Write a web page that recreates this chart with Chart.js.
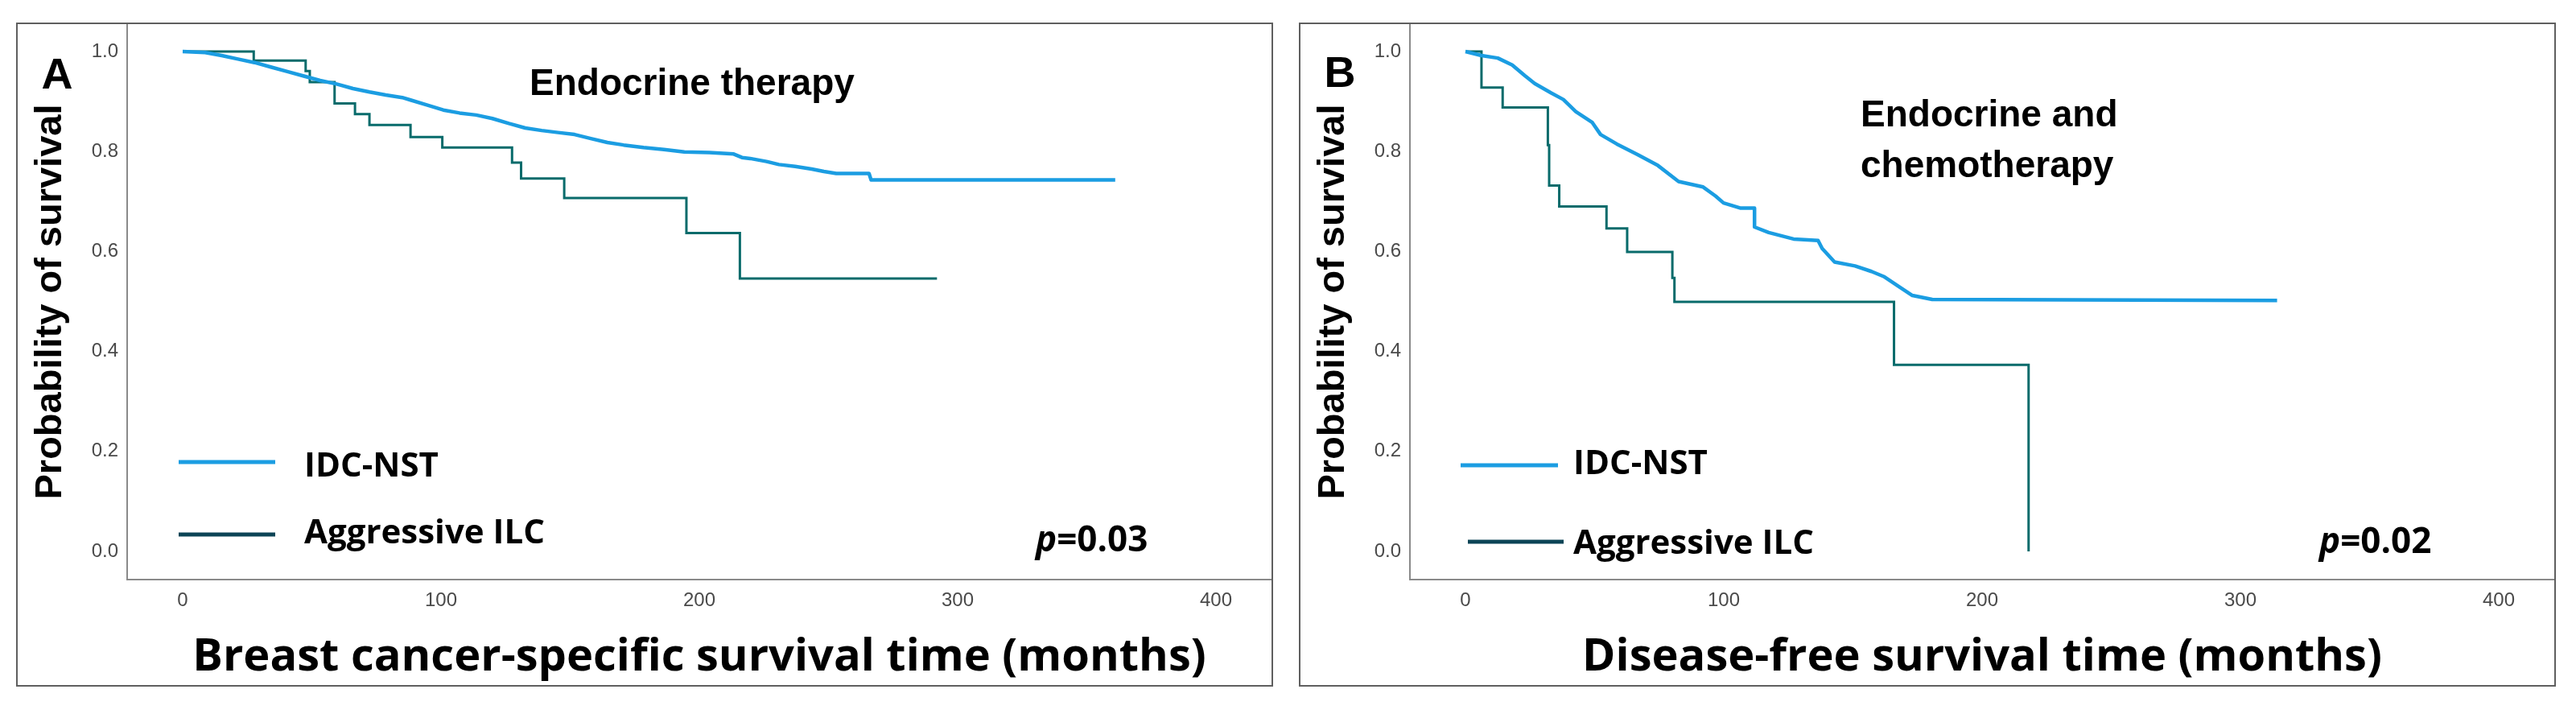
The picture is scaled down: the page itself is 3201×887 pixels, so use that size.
<!DOCTYPE html>
<html>
<head>
<meta charset="utf-8">
<title>Kaplan-Meier curves</title>
<script src="https://cdn.jsdelivr.net/npm/chart.js@4.4.1/dist/chart.umd.min.js"></script>
<style>
    body {
        margin: 0;
        width: 3201px;
        height: 887px;
        background: #ffffff;
        overflow: hidden;
    }
    .panel {
        position: absolute;
        top: 28px;
        width: 1562px;
        height: 825px;
        border: 2px solid #5f5f5f;
        box-sizing: border-box;
    }
    #panelA { left: 20px; }
    #panelB { left: 1614px; }
    canvas { display: block; }
</style>
</head>
<body>

<div class="panel" id="panelA"><canvas id="chartA" width="1558" height="821"></canvas></div>
<div class="panel" id="panelB"><canvas id="chartB" width="1558" height="821"></canvas></div>

<script>
// axis ticks
const xTicks = [0, 100, 200, 300, 400];
const yTicks = [0.0, 0.2, 0.4, 0.6, 0.8, 1.0];

const groups = ["IDC-NST", "Aggressive ILC"];

// Panel A - breast cancer-specific survival, endocrine therapy
// IDC-NST has many small steps, so it is read as a traced line (corners included)
const aIdcTime = [0, 8.7, 15.1, 21.4, 27.8, 34.1, 40.5, 46.9, 53.2, 59.6, 65.9, 72.3, 78.6, 85, 88.2,
    94.5, 100.9, 107.2, 113.6, 119.9, 126.3, 132.6, 139, 145.3, 151.7, 158, 164.4, 170.7, 178.4,
    186.3, 194.2, 203.8, 213.3, 216.5, 219.7, 226, 230.8, 237.1, 243.5, 248.2, 253, 265.7, 266.5, 361];
const aIdcSurv = [1, 0.998, 0.992, 0.985, 0.978, 0.969, 0.960, 0.951, 0.942, 0.935, 0.926, 0.919, 0.913, 0.908, 0.903,
    0.893, 0.883, 0.877, 0.873, 0.866, 0.856, 0.847, 0.842, 0.838, 0.834, 0.826, 0.818, 0.813, 0.808,
    0.804, 0.799, 0.798, 0.795, 0.788, 0.786, 0.780, 0.774, 0.770, 0.765, 0.760, 0.756, 0.756, 0.743, 0.743];

// Aggressive ILC: event times and survival after each drop (step function)
const aIlcTime = [0, 27.5, 47.6, 49.2, 58.8, 66.7, 72.3, 88.2, 100.5, 127.5, 131, 147.7, 195, 215.7, 292];
const aIlcSurv = [1, 0.982, 0.961, 0.939, 0.896, 0.875, 0.853, 0.829, 0.808, 0.778, 0.746, 0.707, 0.637, 0.546, 0.546];

// Panel B - disease-free survival, endocrine and chemotherapy
const bIdcTime = [0, 6.2, 12.5, 18.1, 22.9, 26.8, 33.2, 37.9, 42.7, 49.1, 52.3, 58.6, 66.6, 74.5, 82.5,
    92, 96.8, 99.9, 106.3, 111.9, 111.9, 117.4, 127, 136.5, 138.1, 142.9, 150.8, 157.2, 161.9, 168.3, 173, 180.7, 314.2];
const bIdcSurv = [1, 0.992, 0.987, 0.973, 0.952, 0.936, 0.917, 0.904, 0.880, 0.858, 0.834, 0.815, 0.794, 0.772, 0.740,
    0.729, 0.711, 0.697, 0.687, 0.687, 0.649, 0.638, 0.625, 0.622, 0.606, 0.579, 0.571, 0.560, 0.550, 0.528, 0.512, 0.504, 0.502];

const bIlcTime = [0, 6.2, 14.4, 31.9, 32.4, 36.3, 54.6, 62.6, 80.1, 80.9, 165.9, 218];
const bIlcSurv = [1, 0.928, 0.888, 0.813, 0.732, 0.690, 0.646, 0.599, 0.547, 0.499, 0.373, 0];

const BLUE = "#1b9de2";
const TEAL = "#086b6b";

function toPoints(times, surv) {
    return times.map((t, i) => ({ x: t, y: surv[i] }));
}

// text that sits inside the plot: panel letter, treatment, legend, p value
const kmNotes = {
    id: "kmNotes",
    afterDraw(chart, args, opts) {
        const ctx = chart.ctx;
        ctx.save();
        ctx.fillStyle = "#000";
        ctx.textBaseline = "alphabetic";

        ctx.font = 'bold 54px "Liberation Sans"';
        ctx.textAlign = "center";
        ctx.fillText(opts.letter, opts.letterX, opts.letterY);

        ctx.textAlign = "left";
        ctx.font = 'bold 46px "Liberation Sans"';
        opts.label.forEach((line, i) => ctx.fillText(line, opts.labelX, opts.labelY[i]));

        chart.data.datasets.forEach((ds, i) => {
            const lg = opts.legend[i];
            ctx.strokeStyle = ds.legendColor;
            ctx.lineWidth = 5;
            ctx.beginPath();
            ctx.moveTo(lg.x0, lg.y);
            ctx.lineTo(lg.x1, lg.y);
            ctx.stroke();
            ctx.font = 'bold 42px "Open Sans"';
            ctx.fillText(ds.label, lg.tx, lg.ty);
        });

        ctx.font = 'italic bold 44px "Open Sans"';
        ctx.fillText("p", opts.pX, opts.pY);
        const w = ctx.measureText("p").width;
        ctx.font = 'bold 44px "Open Sans"';
        ctx.fillText("=" + opts.pValue, opts.pX + w, opts.pY);

        ctx.restore();
    }
};

function makeChart(canvasId, idc, ilc, xTitle, notes) {
    return new Chart(document.getElementById(canvasId), {
        type: "line",
        data: {
            datasets: [
                {
                    label: groups[0],
                    data: idc,
                    borderColor: BLUE,
                    legendColor: BLUE,
                    borderWidth: 4.5,
                    borderJoinStyle: "round",
                    pointRadius: 0,
                    fill: false
                },
                {
                    label: groups[1],
                    data: ilc,
                    borderColor: TEAL,
                    legendColor: "#0c4456",
                    borderWidth: 3,
                    stepped: true,
                    pointRadius: 0,
                    fill: false
                }
            ]
        },
        options: {
            responsive: false,
            animation: false,
            devicePixelRatio: 1,
            layout: { padding: 0 },
            plugins: {
                legend: { display: false },
                tooltip: { enabled: false },
                kmNotes: notes
            },
            scales: {
                x: {
                    type: "linear",
                    min: -21.5,
                    max: 421.5,
                    grid: { display: false, drawTicks: false },
                    border: { display: true, color: "#8a8a8a", width: 2 },
                    afterBuildTicks: s => { s.ticks = xTicks.map(v => ({ value: v })); },
                    afterFit: s => { s.height = 131; s.paddingLeft = 0; s.paddingRight = 0; },
                    ticks: {
                        padding: 12,
                        color: "#4a4a4a",
                        maxRotation: 0,
                        autoSkip: false,
                        font: { family: "Liberation Sans", size: 24 }
                    },
                    title: {
                        display: true,
                        text: xTitle,
                        color: "#000",
                        font: { family: "Open Sans", size: 56, weight: "bold" },
                        padding: { top: 0, bottom: 0 }
                    }
                },
                y: {
                    min: -0.0564,
                    max: 1.0548,
                    grid: { display: false, drawTicks: false },
                    border: { display: true, color: "#8a8a8a", width: 2 },
                    afterBuildTicks: s => { s.ticks = yTicks.map(v => ({ value: v })); },
                    afterFit: s => { s.width = 136; s.paddingTop = 0; s.paddingBottom = 0; },
                    ticks: {
                        padding: 11,
                        color: "#4a4a4a",
                        autoSkip: false,
                        font: { family: "Liberation Sans", size: 24 },
                        callback: v => v.toFixed(1)
                    },
                    title: {
                        display: true,
                        text: "Probability of survival",
                        color: "#000",
                        font: { family: "Liberation Sans", size: 47, weight: "bold" },
                        padding: { top: 13, bottom: 0 }
                    }
                }
            }
        },
        plugins: [kmNotes]
    });
}

makeChart("chartA",
    toPoints(aIdcTime, aIdcSurv),
    toPoints(aIlcTime, aIlcSurv),
    "Breast cancer-specific survival time (months)",
    {
        letter: "A", letterX: 49, letterY: 80,
        label: ["Endocrine therapy"], labelX: 636, labelY: [88],
        legend: [
            { x0: 200, x1: 320, y: 544, tx: 356, ty: 562 },
            { x0: 200, x1: 320, y: 634, tx: 356, ty: 645 }
        ],
        pValue: "0.03", pX: 1265, pY: 655
    });

makeChart("chartB",
    toPoints(bIdcTime, bIdcSurv),
    toPoints(bIlcTime, bIlcSurv),
    "Disease-free survival time (months)",
    {
        letter: "B", letterX: 49, letterY: 78,
        label: ["Endocrine and", "chemotherapy"], labelX: 696, labelY: [127, 190],
        legend: [
            { x0: 199, x1: 320, y: 548, tx: 339, ty: 559 },
            { x0: 208, x1: 327, y: 643, tx: 339, ty: 658 }
        ],
        pValue: "0.02", pX: 1266, pY: 657
    });
</script>
</body>
</html>
